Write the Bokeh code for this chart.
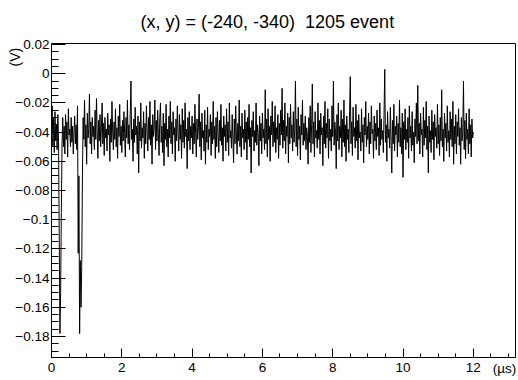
import numpy as np
from bokeh.plotting import figure
from bokeh.models import Range1d, FixedTicker, LinearAxis
from bokeh.embed import file_html
from bokeh.resources import INLINE

title_text = "(x, y) = (-240, -340) \u00a01205 event"
x_unit_label = "(\u00b5s)"
y_unit_label = "(V)" + "\u00a0" * 7

sample_interval_us = 0.02
# waveform samples in mV (one row = 0.4 us)
signal_mV = [
    -38, -22, -50, -30, -54, -26, -46, -35, -52, -28, -44, -110, -178, -150, -95, -48, -30, -50, -36, -55,
    -28, -45, -33, -57, -24, -42, -38, -50, -30, -47, -36, -55, -40, -29, -48, -35, -52, -22, -123, -70,
    -178, -128, -160, -132, -70, -30, -45, -18, -50, -35, -62, -27, -44, -38, -14, -48, -33, -55, -30, -43,
    -36, -52, -25, -45, -17, -40, -58, -32, -46, -28, -50, -37, -20, -48, -34, -56, -30, -44, -38, -53,
    -27, -42, -35, -60, -31, -47, -19, -40, -52, -33, -45, -24, -50, -37, -58, -29, -43, -21, -49, -36,
    -54, -32, -46, -26, -41, -57, -30, -44, -18, -48, -35, -52, -28, -5, -45, -38, -60, -31, -47, -23,
    -42, -36, -55, -29, -68, -33, -46, -20, -51, -37, -44, -26, -58, -34, -48, -22, -40, -53, -30, -45,
    -19, -49, -35, -62, -28, -43, -38, -18, -52, -32, -46, -25, -41, -56, -30, -20, -47, -36, -54, -27,
    -63, -34, -45, -21, -50, -38, -57, -29, -44, -19, -48, -33, -55, -26, -42, -37, -60, -31, -46, -22,
    -40, -53, -28, -45, -35, -58, -24, -47, -32, -51, -20, -43, -38, -65, -30, -46, -26, -52, -36, -44,
    -29, -55, -34, -48, -21, -41, -57, -31, -45, -37, -14, -50, -33, -59, -27, -44, -39, -53, -25, -62,
    -35, -47, -23, -52, -38, -43, -28, -56, -33, -48, -19, -45, -36, -58, -30, -50, -26, -41, -54, -32,
    -46, -21, -49, -37, -60, -29, -43, -35, -53, -24, -47, -33, -56, -20, -44, -39, -51, -28, -45, -61,
    -31, -48, -22, -42, -55, -34, -46, -18, -50, -36, -57, -27, -44, -38, -52, -25, -47, -33, -59, -30,
    -45, -21, -50, -37, -68, -32, -43, -26, -53, -39, -47, -20, -49, -35, -41, -63, -29, -46, -34, -55,
    -27, -44, -38, -52, -11, -48, -31, -57, -24, -45, -36, -60, -29, -42, -19, -50, -33, -47, -22, -54,
    -37, -45, -28, -58, -34, -49, -25, -42, -10, -51, -32, -46, -20, -55, -36, -43, -27, -61, -30, -48,
    -21, -44, -35, -53, -26, -47, -38, -5, -50, -31, -56, -23, -45, -36, -59, -28, -42, -18, -49, -34,
    -46, -29, -52, -37, -43, -62, -30, -47, -22, -54, -35, -7, -48, -33, -57, -26, -44, -39, -51, -20,
    -45, -32, -55, -27, -42, -37, -63, -29, -48, -19, -51, -34, -44, -24, -58, -31, -46, -38, -53, -22,
    -43, -5, -49, -33, -40, -65, -28, -46, -20, -52, -36, -44, -25, -57, -31, -47, -18, -50, -35, -60,
    -29, -45, -38, -54, -26, -2, -48, -33, -56, -23, -43, -37, -51, -21, -46, -32, -59, -28, -44, -40,
    -53, -24, -47, -35, -61, -30, -42, -19, -50, -36, -45, -27, -55, -33, -48, -22, -41, -38, -58, -29,
    -46, -34, -52, -25, -43, -37, -56, -20, -49, -31, -45, -39, -54, -28, 3, -47, -35, -60, -26, -44,
    -38, -51, -23, -46, -68, -32, -48, -21, -53, -36, -42, -29, -57, -34, -47, -18, -50, -37, -55, -27,
    -71, -33, -45, -24, -52, -38, -47, -30, -58, -22, -44, -36, -53, -26, -49, -40, -61, -31, -43, -20,
    -48, -8, -46, -34, -55, -27, -42, -38, -57, -23, -49, -32, -44, -19, -52, -36, -68, -29, -47, -39,
    -54, -25, -45, -33, -59, -28, -43, -37, -51, -21, -48, -35, -56, -30, -46, -11, -50, -38, -60, -27,
    -44, -34, -53, -22, -47, -39, -57, -26, -45, -31, -50, -19, -62, -36, -48, -28, -55, -33, -43, -24,
    -49, -37, -62, -30, -46, -41, -5, -52, -32, -58, -27, -45, -38, -55, -24, -48, -35, -57, -31, -44,
    -40,
]

x_ticks = [0, 2, 4, 6, 8, 10, 12]
x_tick_labels = ["0", "2", "4", "6", "8", "10", "12"]
x_minor_ticks = [0.5, 1, 1.5, 2.5, 3, 3.5, 4.5, 5, 5.5, 6.5, 7, 7.5, 8.5, 9, 9.5,
                 10.5, 11, 11.5, 12.5, 13]
x_unit_position = [12.89]
y_ticks = [-0.18, -0.16, -0.14, -0.12, -0.1, -0.08, -0.06, -0.04, -0.02, 0, 0.02]
y_tick_labels = ["\u22120.18", "\u22120.16", "\u22120.14", "\u22120.12", "\u22120.1",
                 "\u22120.08", "\u22120.06", "\u22120.04", "\u22120.02", "0", "0.02"]
y_minor_ticks = [-0.19, -0.185, -0.175, -0.17, -0.165, -0.155, -0.15, -0.145,
                 -0.135, -0.13, -0.125, -0.115, -0.11, -0.105, -0.095, -0.09, -0.085,
                 -0.075, -0.07, -0.065, -0.055, -0.05, -0.045, -0.035, -0.03, -0.025,
                 -0.015, -0.01, -0.005, 0.005, 0.01, 0.015, 0.02]

t_us = np.arange(len(signal_mV)) * sample_interval_us
volts = np.array(signal_mV, dtype=float) / 1000.0

FONT = "Liberation Sans"

p = figure(width=518, height=380,
           x_range=Range1d(0, 13.2), y_range=Range1d(-0.1944, 0.0207),
           output_backend="svg", toolbar_location=None,
           min_border_left=51, min_border_right=3,
           min_border_top=43, min_border_bottom=23)
p.background_fill_color = "white"
p.border_fill_color = "white"
p.outline_line_color = "black"
p.outline_line_width = 1
p.xgrid.visible = False
p.ygrid.visible = False

p.title.text = title_text
p.title.text_font = FONT
p.title.text_font_size = "18px"
p.title.text_font_style = "normal"
p.title.text_color = "black"
p.title.align = "left"
p.title.offset = 89
p.title.vertical_align = "top"
p.title.standoff = 20

p.line(t_us, volts, line_color="black", line_width=1)

xa = p.xaxis[0]
xa.ticker = FixedTicker(ticks=x_ticks, minor_ticks=x_minor_ticks)
xa.major_label_overrides = dict(zip(x_ticks, x_tick_labels))
xa.major_tick_in = 9
xa.major_tick_out = 0
xa.minor_tick_in = 4
xa.minor_tick_out = 0
xa.major_label_standoff = 5
xa.major_label_text_font = FONT
xa.major_label_text_font_size = "13.5px"
xa.major_label_text_color = "black"
xa.axis_line_color = "black"
xa.major_tick_line_color = "black"
xa.minor_tick_line_color = "black"

# unit label of the time axis, drawn as the only label of a bare second axis
xu = LinearAxis(ticker=FixedTicker(ticks=x_unit_position, minor_ticks=[]),
                major_label_overrides={x_unit_position[0]: x_unit_label})
xu.axis_line_color = None
xu.major_tick_line_color = None
xu.minor_tick_line_color = None
xu.major_tick_in = 0
xu.major_tick_out = 0
xu.minor_tick_in = 0
xu.minor_tick_out = 0
xu.major_label_standoff = -14
xu.major_label_text_font = FONT
xu.major_label_text_font_size = "13.5px"
xu.major_label_text_color = "black"
p.add_layout(xu, "below")

ya = p.yaxis[0]
ya.ticker = FixedTicker(ticks=y_ticks, minor_ticks=y_minor_ticks)
ya.major_label_overrides = dict(zip(y_ticks, y_tick_labels))
ya.major_tick_in = 14
ya.major_tick_out = 0
ya.minor_tick_in = 7
ya.minor_tick_out = 0
ya.major_label_standoff = 2
ya.major_label_text_font = FONT
ya.major_label_text_font_size = "13.5px"
ya.major_label_text_color = "black"
ya.axis_line_color = "black"
ya.major_tick_line_color = "black"
ya.minor_tick_line_color = "black"
ya.axis_label = y_unit_label
ya.axis_label_text_font = FONT
ya.axis_label_text_font_size = "14px"
ya.axis_label_text_font_style = "normal"
ya.axis_label_text_color = "black"
ya.axis_label_standoff = -11
ya.axis_label_align = "end"

open("out.html", "w").write(file_html(p, INLINE))
